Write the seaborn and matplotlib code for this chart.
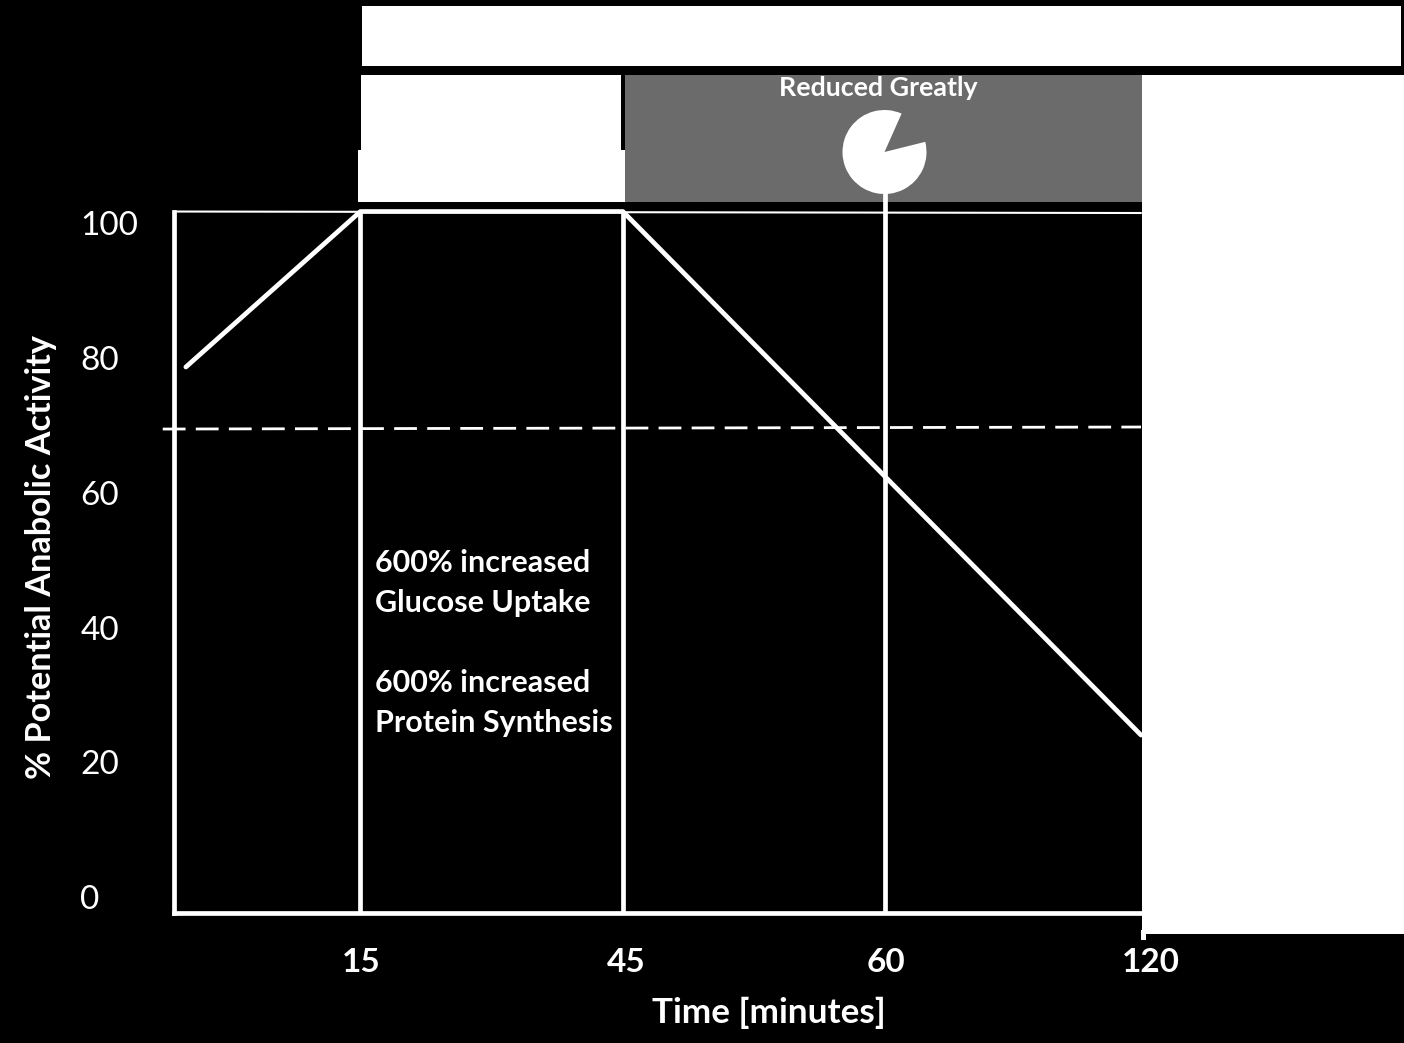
## for data
import numpy as np
import pandas as pd

## for plotting
import matplotlib.pyplot as plt
from matplotlib.patches import Rectangle, Wedge
from matplotlib.transforms import ScaledTranslation
import seaborn as sns

# positions along the time axis, the ticks are not to scale
tick_pos = [1, 2, 3, 3.974]
tick_labels = ["15", "45", "60", "120"]
tick_shift = [1, 3, 1, 10]
activity_x = [0.335, 1, 2, 3, 3.974]
activity_y = [78.8, 101.87, 101.87, 62.5, 24.2]
dash_x = [0.247, 3.974]
dash_y = [69.6, 69.9]
top_x = [0.293, 3.974]
top_y = [101.87, 101.65]
y_ticks = [0, 20, 40, 60, 80, 100]

W, H = 1404, 1043
sns.set_style("dark")
plt.rcParams['font.family'] = ['Lato', 'DejaVu Sans']

df = pd.DataFrame({"x": activity_x, "y": activity_y})
df_dash = pd.DataFrame({"x": dash_x, "y": dash_y})
df_top = pd.DataFrame({"x": top_x, "y": top_y})

fig = plt.figure(figsize=(W / 100, H / 100), dpi=100, facecolor="black")
# axes box in pixels: x 174-1141, y 212 (top) - 913 (bottom)
ax = fig.add_axes([174 / W, 1 - 913 / H, (1141 - 174) / W, (913 - 212) / H], facecolor="black")
sns.lineplot(data=df, x="x", y="y", color="white", lw=3.4, ax=ax, errorbar=None, clip_on=False)
sns.lineplot(data=df_top, x="x", y="y", color="white", lw=1.5, ax=ax, errorbar=None, clip_on=False)
sns.lineplot(data=df_dash, x="x", y="y", color="white", lw=2, ax=ax, errorbar=None, clip_on=False,
             linestyle=(0, (8.2, 3.7)))

ax.set_xlim(1 - (360.5 - 174) / 262.6, 3.974)
ax.set_ylim(-2.2, 101.8)
ax.grid(False)
for s in ["top", "right"]:
    ax.spines[s].set_visible(False)
for s in ["left", "bottom"]:
    ax.spines[s].set_color("white")
    ax.spines[s].set_linewidth(3.4)

for p in tick_pos[:3]:
    ax.axvline(p, color="white", lw=3.4)

ax.set_xticks(tick_pos)
ax.set_xticklabels(tick_labels, fontsize=24, fontweight="bold", color="white")
ax.set_yticks(y_ticks)
ax.set_yticklabels(y_ticks, fontsize=24, color="white", ha="left")
ax.tick_params(axis="x", length=0, pad=25)
ax.tick_params(axis="y", length=0, pad=67.5)
for lab, dx in zip(ax.get_xticklabels(), tick_shift):
    lab.set_transform(lab.get_transform() + ScaledTranslation(dx / 100, 0, fig.dpi_scale_trans))
for lab in ax.get_yticklabels():
    lab.set_transform(lab.get_transform() + ScaledTranslation(0, 1 / 100, fig.dpi_scale_trans))
ax.set_xlabel("Time [minutes]", fontsize=25.3, fontweight="bold", color="white", va="center")
ax.xaxis.set_label_coords(0.615, -0.143)
ax.set_ylabel("% Potential Anabolic Activity", fontsize=24.7, fontweight="bold", color="white", va="center")
ax.yaxis.set_label_coords(-0.1377, 0.508)

# panels above and right of the plot, in pixel coordinates
over = fig.add_axes([0, 0, 1, 1], facecolor="none")
over.set_xlim(0, W)
over.set_ylim(H, 0)
over.axis("off")
over.add_patch(Rectangle((362, 6), 1039, 60, color="white", lw=0))
over.add_patch(Rectangle((361, 75), 260, 76, color="white", lw=0))
over.add_patch(Rectangle((358, 150), 267, 52, color="white", lw=0))
over.add_patch(Rectangle((625, 75), 517, 127, color="#6b6b6b", lw=0))
over.add_patch(Rectangle((1142, 75), 262, 859, color="white", lw=0))
over.add_patch(Rectangle((1141, 930), 5, 10, color="white", lw=0))
over.plot([885.3, 885.3], [190, 212], color="white", lw=3.4, solid_capstyle="butt")
over.add_patch(Wedge((884.5, 152), 42, -14, 294, color="white", lw=0))

over.text(878, 88, "Reduced Greatly", color="white", fontsize=19.3, fontweight="bold", ha="center", va="center")
over.text(375, 563, "600% increased", color="white", fontsize=22, fontweight="bold", va="center")
over.text(375, 603, "Glucose Uptake", color="white", fontsize=22, fontweight="bold", va="center")
over.text(375, 683, "600% increased", color="white", fontsize=22, fontweight="bold", va="center")
over.text(375, 723, "Protein Synthesis", color="white", fontsize=22, fontweight="bold", va="center")

fig.savefig("out.png", dpi=100, facecolor="black")
